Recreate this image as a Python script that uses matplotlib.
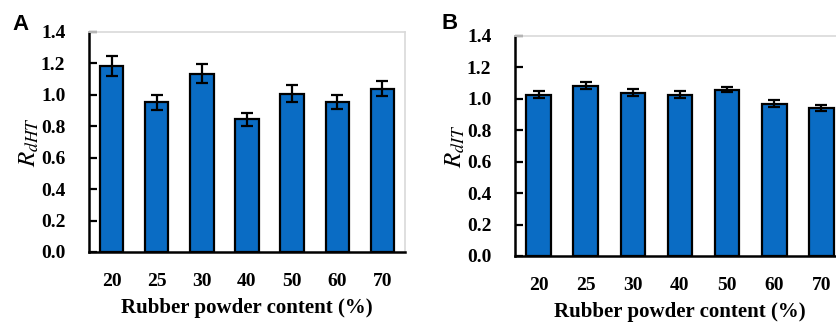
import matplotlib
matplotlib.use('Agg')
import matplotlib.pyplot as plt
import numpy as np

# rubber powder content (%) categories
contents = ['20', '25', '30', '40', '50', '60', '70']

# panel A values and error bars
r_dht = [1.185, 0.952, 1.135, 0.845, 1.007, 0.952, 1.040]
r_dht_err = [0.062, 0.048, 0.060, 0.042, 0.055, 0.045, 0.048]

# panel B values and error bars
r_dit = [1.025, 1.083, 1.040, 1.025, 1.058, 0.968, 0.942]
r_dit_err = [0.022, 0.022, 0.022, 0.022, 0.016, 0.022, 0.022]

plt.rcParams['font.family'] = ['Liberation Serif', 'DejaVu Serif']
plt.rcParams['mathtext.fontset'] = 'stix'

bar_color = '#0A6CC4'

fig = plt.figure(figsize=(8.37, 3.24), dpi=100)


def draw_panel(rect, values, errs, ylabel, letter, letter_xy):
    ax = fig.add_axes(rect)
    x = np.arange(len(contents))
    ax.bar(x, values, width=0.52, color=bar_color, edgecolor='black', linewidth=1.6,
           yerr=errs, capsize=4, error_kw=dict(elinewidth=1.6, capthick=1.6, ecolor='black'),
           zorder=3)
    ax.set_xlim(-0.5, len(contents) - 0.5)
    ax.set_ylim(0, 1.4)
    ax.set_yticks(np.arange(0, 1.41, 0.2))
    ax.set_yticklabels([f'{v:.1f}' for v in np.arange(0, 1.41, 0.2)])
    ax.set_xticks(x)
    ax.set_xticklabels(contents)
    for lab in ax.get_xticklabels() + ax.get_yticklabels():
        lab.set_fontweight('bold')
        lab.set_fontsize(14)
    ax.tick_params(axis='x', length=0, pad=15)
    ax.tick_params(axis='y', direction='in', length=6, width=1.6, pad=17)
    for side in ['left', 'bottom']:
        ax.spines[side].set_linewidth(1.8)
        ax.spines[side].set_color('black')
    for side in ['top', 'right']:
        ax.spines[side].set_linewidth(1.2)
        ax.spines[side].set_color('#d9d9d9')
    ax.set_xlabel('Rubber powder content (%)', fontsize=15, fontweight='bold', labelpad=6)
    ax.set_ylabel(ylabel, fontsize=18, labelpad=0)
    fig.text(letter_xy[0], letter_xy[1], letter, family='Liberation Sans', fontweight='bold',
             fontsize=16, ha='left', va='top')
    return ax


ax_a = draw_panel([89 / 837, 72 / 324, 316 / 837, 220 / 324], r_dht, r_dht_err,
                  r'$R_{dHT}$', 'A', (12 / 837, 1 - 14 / 324))
ax_b = draw_panel([515 / 837, 68 / 324, 330 / 837, 220 / 324], r_dit, r_dit_err,
                  r'$R_{dIT}$', 'B', (442 / 837, 1 - 13 / 324))

fig.savefig('out.png', dpi=100)
